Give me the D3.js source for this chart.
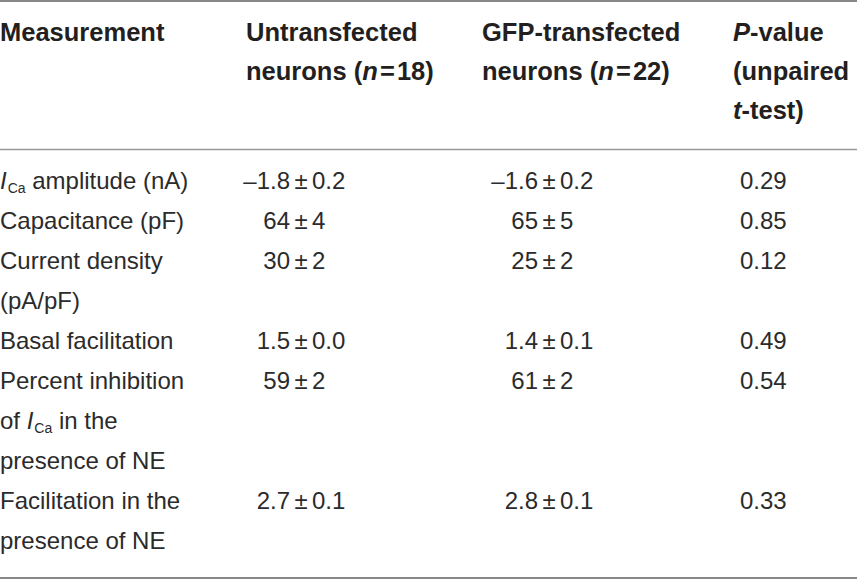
<!DOCTYPE html>
<html lang="en">
<head>
<meta charset="UTF-8">
<title>Calcium current measurements</title>
<script src="https://d3js.org/d3.v7.min.js"></script>
<style>
  body { margin: 0; background: #fff; }
  svg { display: block; background: #fff; }
  .cell { font-family: "Liberation Sans", Arial, sans-serif; fill: #231f20; }
  .head { font-size: 25.5px; font-weight: bold; }
  .body { font-size: 24px; fill: #2b2b2b; }
</style>
</head>
<body>
<svg width="857" height="579"></svg>
<script>
// *x* = italic, _x_ = subscript
const headerLines = [
  ["Measurement"],
  ["Untransfected", "neurons (*n*\u200A=\u200A18)"],
  ["GFP-transfected", "neurons (*n*\u200A=\u200A22)"],
  ["*P*-value", "(unpaired", "*t*-test)"]
];
const measurementLines = [
  ["*I*_Ca_ amplitude (nA)"],
  ["Capacitance (pF)"],
  ["Current density", "(pA/pF)"],
  ["Basal facilitation"],
  ["Percent inhibition", "of *I*_Ca_ in the", "presence of NE"],
  ["Facilitation in the", "presence of NE"]
];
const untransMean = ["–1.8", "64", "30", "1.5", "59", "2.7"];
const untransSem  = ["0.2", "4", "2", "0.0", "2", "0.1"];
const gfpMean     = ["–1.6", "65", "25", "1.4", "61", "2.8"];
const gfpSem      = ["0.2", "5", "2", "0.1", "2", "0.1"];
const pValues     = ["0.29", "0.85", "0.12", "0.49", "0.54", "0.33"];

const W = 857, H = 579;
const svg = d3.select("svg");

const colX = d3.scaleOrdinal()
  .domain(["measure", "untrans", "gfp", "p"])
  .range([0, 246, 482, 733]);
const pmX = d3.scaleOrdinal().domain(["untrans", "gfp"]).range([301, 549]);
const pX = 740;

const headY = d3.scaleLinear().domain([0, 1]).range([41, 80]);
const rowY = d3.scaleLinear().domain([0, 1]).range([189, 229]);

// line index where each row starts
const rowStart = [];
measurementLines.reduce((acc, lines, i) => { rowStart[i] = acc; return acc + lines.length; }, 0);

function richText(sel, str) {
  const parts = str.split(/(\*[^*]+\*|_[^_]+_)/).filter(s => s.length);
  let shifted = false;
  parts.forEach(p => {
    const t = sel.append("tspan");
    if (p.startsWith("*")) {
      t.attr("font-style", "italic").text(p.slice(1, -1));
    } else if (p.startsWith("_")) {
      t.attr("font-size", 14).attr("dy", 4).attr("dx", 1).text(p.slice(1, -1));
      shifted = true;
      return;
    } else {
      t.text(p);
    }
    if (shifted) { t.attr("dy", -4); shifted = false; }
  });
}

// header
const heads = ["measure", "untrans", "gfp", "p"];
headerLines.forEach((lines, c) => {
  lines.forEach((ln, j) => {
    svg.append("text").attr("class", "cell head")
      .attr("x", colX(heads[c])).attr("y", headY(j))
      .call(richText, ln);
  });
});

// measurement labels
measurementLines.forEach((lines, i) => {
  lines.forEach((ln, j) => {
    svg.append("text").attr("class", "cell body")
      .attr("x", colX("measure")).attr("y", rowY(rowStart[i] + j))
      .call(richText, ln);
  });
});

// mean ± sem columns, aligned on the ± sign
function valueColumn(key, means, sems) {
  const g = svg.append("g");
  means.forEach((m, i) => {
    const y = rowY(rowStart[i]);
    g.append("text").attr("class", "cell body").attr("text-anchor", "end")
      .attr("x", pmX(key) - 11).attr("y", y).text(m);
    g.append("text").attr("class", "cell body").attr("text-anchor", "middle")
      .attr("x", pmX(key)).attr("y", y).attr("font-size", 25).text("±");
    g.append("text").attr("class", "cell body")
      .attr("x", pmX(key) + 11).attr("y", y).text(sems[i]);
  });
}
valueColumn("untrans", untransMean, untransSem);
valueColumn("gfp", gfpMean, gfpSem);

svg.append("g").selectAll("text").data(pValues).join("text")
  .attr("class", "cell body")
  .attr("x", pX).attr("y", (d, i) => rowY(rowStart[i]))
  .text(d => d);

// rules
svg.append("line").attr("x1", 0).attr("x2", W).attr("y1", 1).attr("y2", 1)
  .attr("stroke", "#888").attr("stroke-width", 2);
svg.append("line").attr("x1", 0).attr("x2", W).attr("y1", 149.5).attr("y2", 149.5)
  .attr("stroke", "#999").attr("stroke-width", 1.5);
svg.append("line").attr("x1", 0).attr("x2", W).attr("y1", 578).attr("y2", 578)
  .attr("stroke", "#888").attr("stroke-width", 2);
</script>
</body>
</html>
